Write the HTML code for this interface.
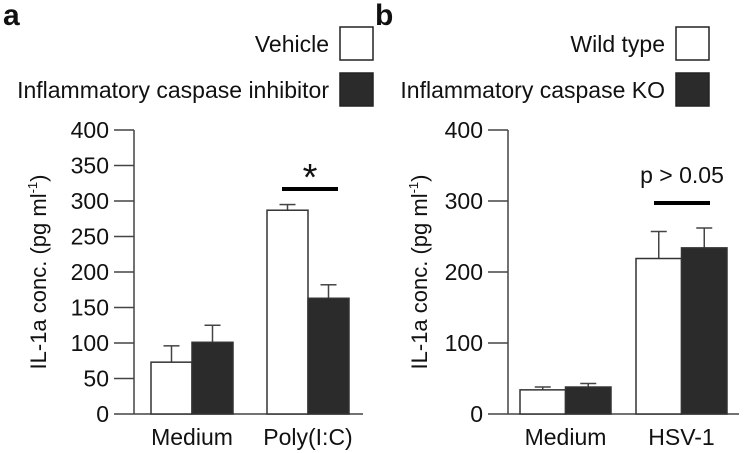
<!DOCTYPE html>
<html><head><meta charset="utf-8"><style>
body{margin:0;background:#fff}
svg{display:block;font-family:"Liberation Sans",Arial,sans-serif}
</style></head><body>
<svg id="chart" width="750" height="453" viewBox="0 0 750 453"></svg>
<script>
const catsA=["Medium","Poly(I:C)"];
const vehicleA=[73,287];
const vehicleErrA=[96,295];
const inhibA=[101,163];
const inhibErrA=[125,182];
const ticksA=[0,50,100,150,200,250,300,350,400];
const catsB=["Medium","HSV-1"];
const wtB=[34,219];
const wtErrB=[38,257];
const koB=[38,234];
const koErrB=[43,262];
const ticksB=[0,100,200,300,400];

const svg=document.getElementById('chart');
const NS='http://www.w3.org/2000/svg';
function mk(tag,attrs,name,parent){const e=document.createElementNS(NS,tag);for(const k in attrs)e.setAttribute(k,attrs[k]);


(parent||svg).appendChild(e);return e;}
function txt(s,attrs,name,parent){const e=mk('text',attrs,name,parent);e.textContent=s;return e;}

function panel(o){
  const g=mk('g',{},o.name);
  const y=v=>414-v/400*284;
  mk('line',{x1:o.ax,y1:130,x2:o.ax,y2:414,stroke:'#444','stroke-width':1.5},'y-axis',g);
  mk('line',{x1:o.ax,y1:414,x2:o.xend,y2:414,stroke:'#444','stroke-width':1.5},'x-axis',g);
  o.ticks.forEach(t=>{
    mk('line',{x1:o.ax-20,y1:y(t),x2:o.ax,y2:y(t),stroke:'#444','stroke-width':1.5},'y-tick',g);
    txt(String(t),{x:o.ax-25,y:y(t)+8,'font-size':23,'text-anchor':'end',fill:'#111'},'y-tick-label',g);
  });
  const t=txt('IL-1a conc. (pg ml',{},'y-axis-title',g);
  t.setAttribute('transform',`translate(${o.tx},272) rotate(-90)`);
  t.setAttribute('text-anchor','middle');t.setAttribute('font-size',22);t.setAttribute('fill','#111');
  t.innerHTML='IL-1a conc. (pg ml<tspan font-size="13" dy="-9">-1</tspan><tspan dy="9">)</tspan>';
  o.cats.forEach((c,i)=>{
    const x0=o.gx[i],w=o.bw;
    [[o.s1,o.e1,'#fff','white'],[o.s2,o.e2,'#2b2b2b','black']].forEach(([s,e,f,n],j)=>{
      const bx=x0+j*w;
      mk('line',{x1:bx+w/2,y1:y(s[i]),x2:bx+w/2,y2:y(e[i]),stroke:'#444','stroke-width':1.5},'error-bar',g);
      mk('line',{x1:bx+w/2-8,y1:y(e[i]),x2:bx+w/2+8,y2:y(e[i]),stroke:'#444','stroke-width':1.5},'error-cap',g);
      mk('rect',{x:bx,y:y(s[i]),width:w,height:414-y(s[i]),fill:f,stroke:'#333','stroke-width':1.5},'bar-'+n+'-'+c.toLowerCase().replace(/[^a-z0-9]/g,''),g);
    });
    txt(c,{x:x0+w,y:445,'font-size':23,'text-anchor':'middle',fill:'#111'},'x-label',g);
  });
  txt(o.letter,{x:o.lx,y:25,'font-size':30,'font-weight':'bold',fill:'#111'},'panel-label',g);
  o.leg.forEach((l,k)=>{
    const by=27+k*46;
    txt(l,{x:o.boxx-11,y:by+25,'font-size':23,'text-anchor':'end',fill:'#111'},'legend-label',g);
    mk('rect',{x:o.boxx,y:by,width:33,height:33,fill:k?'#2b2b2b':'#fff',stroke:'#222','stroke-width':1.5},'legend-swatch',g);
  });
  mk('line',{x1:o.sig[0],y1:o.sig[2],x2:o.sig[1],y2:o.sig[2],stroke:'#000','stroke-width':4},'significance-line',g);
  txt(o.sigT,{x:(o.sig[0]+o.sig[1])/2,y:o.sigTy,'font-size':o.sigFs,'text-anchor':'middle',fill:'#111'},'significance-label',g);
}
panel({name:'panel-a',ax:134,xend:363,ticks:ticksA,tx:46,cats:catsA,gx:[151,267],bw:41,s1:vehicleA,e1:vehicleErrA,s2:inhibA,e2:inhibErrA,
  letter:'a',lx:3,leg:['Vehicle','Inflammatory caspase inhibitor'],boxx:340,sig:[282,338,189],sigT:'*',sigTy:190,sigFs:38});
panel({name:'panel-b',ax:508,xend:739,ticks:ticksB,tx:427,cats:catsB,gx:[520,636],bw:45.5,s1:wtB,e1:wtErrB,s2:koB,e2:koErrB,
  letter:'b',lx:375,leg:['Wild type','Inflammatory caspase KO'],boxx:676,sig:[654,710,203],sigT:'p > 0.05',sigTy:183,sigFs:23});
</script>
</body></html>
